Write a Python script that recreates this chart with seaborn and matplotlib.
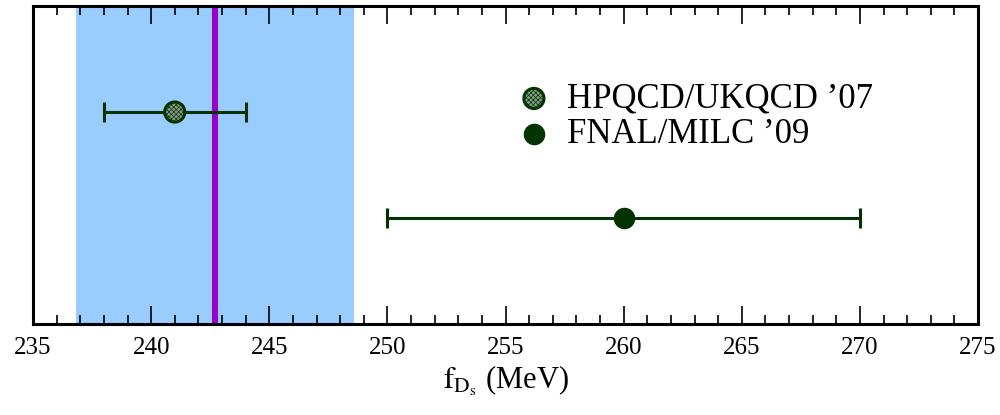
import matplotlib
matplotlib.use("Agg")
import matplotlib.pyplot as plt
import seaborn as sns
import pandas as pd
from matplotlib.ticker import MultipleLocator

# podaci: lattice rezultati za f_Ds
groups = ["HPQCD/UKQCD \u201907", "FNAL/MILC \u201909"]
fds = [241.0, 260.0]
fds_err = [3.0, 10.0]
row = [2, 1]

# prosjek i pojas
avg = 242.7
avg_err = 5.9

df = pd.DataFrame({"group": groups, "fds": fds, "err": fds_err, "row": row})

sns.set_theme(style="white")
plt.rcParams["font.family"] = ["Liberation Serif", "DejaVu Serif"]
plt.rcParams["mathtext.fontset"] = "stix"
plt.rcParams["text.color"] = "black"
plt.rcParams["axes.labelcolor"] = "black"
plt.rcParams["xtick.color"] = "black"
plt.rcParams["hatch.color"] = "#dfe6df"
plt.rcParams["hatch.linewidth"] = 0.5

fig = plt.figure(figsize=(10, 4.15), dpi=100)
ax = fig.add_axes([0.033, 0.219, 0.945, 0.7665])

green = "#003300"

# pojas i centralna vrijednost
ax.axvspan(avg - avg_err, avg + avg_err, color="#99ccff", lw=0, zorder=0)
ax.axvline(avg, color="#9900cc", lw=4.3, zorder=1)

# error barovi
ax.errorbar(df["fds"], df["row"], xerr=df["err"], fmt="none",
            ecolor=green, elinewidth=2.2, capsize=7, capthick=2.2, zorder=2)

# tacke
sns.scatterplot(data=df.iloc[[0]], x="fds", y="row", ax=ax, s=210,
                color="#8a9c8a", edgecolor=green, linewidth=2.2,
                hatch="xxxxxxx", label=groups[0], zorder=3)
sns.scatterplot(data=df.iloc[[1]], x="fds", y="row", ax=ax, s=210,
                color=green, edgecolor=green, linewidth=1,
                label=groups[1], zorder=3)

ax.set_xlim(235, 275)
ax.set_ylim(0, 3)
ax.set_yticks([])
ax.xaxis.set_major_locator(MultipleLocator(5))
ax.xaxis.set_minor_locator(MultipleLocator(1))
ax.tick_params(axis="x", which="both", direction="in", top=True, bottom=True,
               color="black", width=1.2, labelsize=18, pad=9)
ax.tick_params(axis="x", which="major", length=13)
ax.tick_params(axis="x", which="minor", length=6.5)

for sp in ax.spines.values():
    sp.set_color("black")
    sp.set_linewidth(2.2)

ax.set_xlabel(r"$\mathrm{f}_{\mathrm{D}_{\mathrm{s}}}$ (MeV)", fontsize=22, labelpad=4)
ax.set_ylabel("")

leg = ax.legend(loc="upper left", bbox_to_anchor=(0.497, 0.803), frameon=False,
                fontsize=25, handletextpad=0.45, labelspacing=0.08,
                handlelength=1.0, borderaxespad=0)
for h in leg.legend_handles:
    h.set_sizes([210])

fig.savefig("out.png", dpi=100)
